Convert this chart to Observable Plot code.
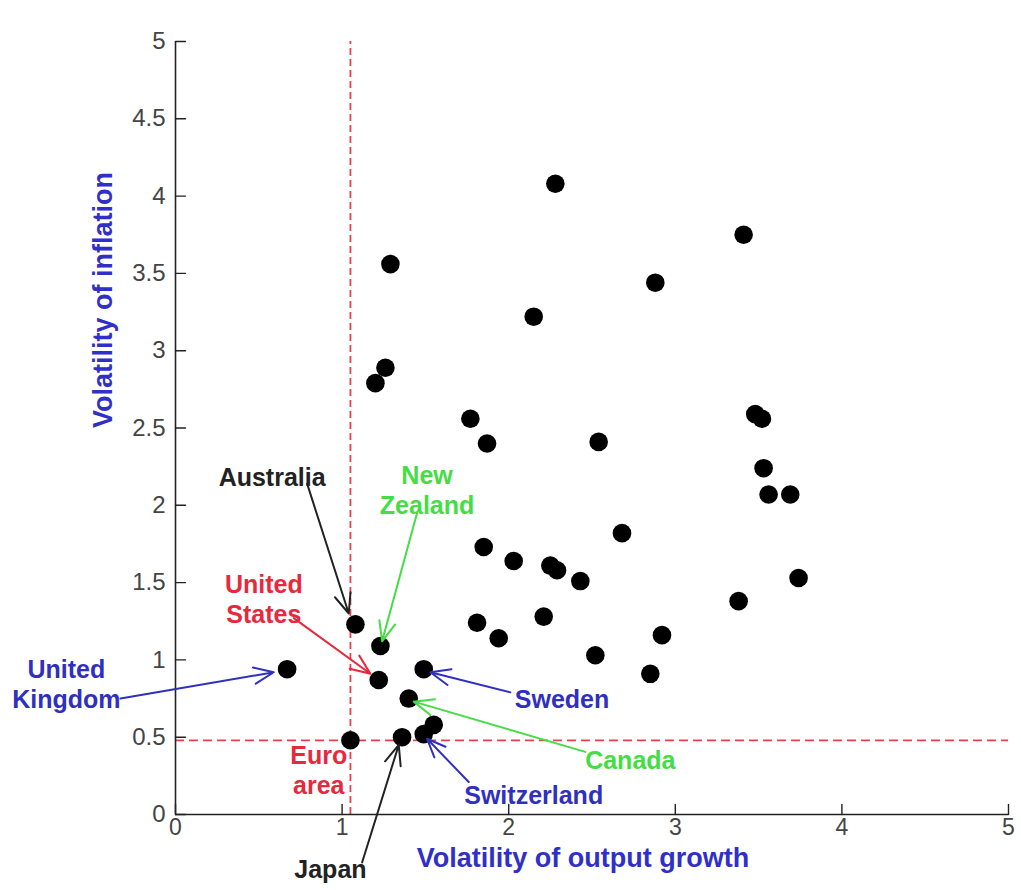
<!DOCTYPE html>
<html>
<head>
<meta charset="utf-8">
<script src="https://cdn.jsdelivr.net/npm/d3@7"></script>
<script src="https://cdn.jsdelivr.net/npm/@observablehq/plot@0.6"></script>
<style>
  html, body { margin: 0; padding: 0; background: #fff; }
</style>
</head>
<body>
<div id="chart"></div>
<script>
// ---- data ----
const outputVol = [2.28, 3.41, 1.29, 2.88, 2.15, 1.26, 1.20, 1.77, 1.87, 2.54, 3.48, 3.52, 3.53, 3.56, 3.69, 2.68, 1.85, 2.03, 2.25, 2.29, 2.43, 3.74, 3.38, 1.81, 2.21, 1.94, 2.92, 2.52, 2.85, 1.08, 1.23, 0.67, 1.22, 1.49, 1.40, 1.49, 1.55, 1.36, 1.05];
const inflationVol = [4.08, 3.75, 3.56, 3.44, 3.22, 2.89, 2.79, 2.56, 2.40, 2.41, 2.59, 2.56, 2.24, 2.07, 2.07, 1.82, 1.73, 1.64, 1.61, 1.58, 1.51, 1.53, 1.38, 1.24, 1.28, 1.14, 1.16, 1.03, 0.91, 1.23, 1.09, 0.94, 0.87, 0.94, 0.75, 0.52, 0.58, 0.50, 0.48];

const xTicks = [0, 1, 2, 3, 4, 5];
const yTicks = [0, 0.5, 1, 1.5, 2, 2.5, 3, 3.5, 4, 4.5, 5];

// euro-area reference values (dashed lines)
const refX = [1.05];
const refY = [0.48];

const xLabel = ["Volatility of output growth"];
const yLabel = ["Volatility of inflation"];

// annotations
const annotText  = ["Australia", "New\nZealand", "United\nStates", "United\nKingdom", "Sweden", "Canada", "Switzerland", "Japan", "Euro\narea"];
const annotColor = ["#222222", "#44dd44", "#e8283c", "#2f2fc0", "#2f2fc0", "#44dd44", "#2f2fc0", "#222222", "#e8283c"];
const annotX     = [0.58, 1.51, 0.53, -0.655, 2.32, 2.73, 2.15, 0.93, 0.86];
const annotY     = [2.19, 2.10, 1.40, 0.85, 0.75, 0.355, 0.127, -0.347, 0.29];

const arrowColor = ["#222222", "#44dd44", "#e8283c", "#2f2fc0", "#2f2fc0", "#44dd44", "#2f2fc0", "#222222"];
const arrowX1 = [0.79, 1.45, 0.71, -0.33, 2.01, 2.46, 1.76, 1.12];
const arrowY1 = [2.14, 1.95, 1.27, 0.75, 0.79, 0.405, 0.21, -0.31];
const arrowX2 = [1.04, 1.24, 1.17, 0.59, 1.53, 1.43, 1.51, 1.34];
const arrowY2 = [1.30, 1.12, 0.91, 0.92, 0.92, 0.73, 0.49, 0.45];

// ---- tables ----
const points = outputVol.map((x, i) => ({x, y: inflationVol[i]}));
const annots = annotText.map((t, i) => ({t, c: annotColor[i], x: annotX[i], y: annotY[i]}));
const arrows = arrowX1.map((x1, i) => ({x1, y1: arrowY1[i], x2: arrowX2[i], y2: arrowY2[i], c: arrowColor[i]}));

const lineShape = {draw(context, l) { context.moveTo(0, 0); context.lineTo(0, -l); }};
const refRed = "#e8404c";
const axisBlue = "#3030c8";

const chart = Plot.plot({
  width: 1021,
  height: 890,
  marginLeft: 175,
  marginRight: 13,
  marginTop: 41,
  marginBottom: 76,
  x: {domain: [0, 5]},
  y: {domain: [0, 5]},
  style: {fontFamily: "'Liberation Sans', Arial, sans-serif", background: "#fff", overflow: "visible"},
  marks: [
    Plot.ruleX(refX, {y1: 0, y2: 5, stroke: refRed, strokeWidth: 1.8, strokeDasharray: "7,4"}),
    Plot.ruleY(refY, {x1: 0, x2: 5, stroke: refRed, strokeWidth: 1.8, strokeDasharray: "9,5"}),
    Plot.ruleX([0], {y1: 0, y2: 5, stroke: "#222", strokeWidth: 1.6}),
    Plot.ruleY([0], {x1: 0, x2: 5, stroke: "#222", strokeWidth: 1.6}),
    Plot.vector(yTicks, {x: 0, y: d => d, length: 10, rotate: 90, anchor: "start", shape: lineShape, stroke: "#222", strokeWidth: 1.4}),
    Plot.vector(xTicks, {x: d => d, y: 0, length: 10, rotate: 0, anchor: "start", shape: lineShape, stroke: "#222", strokeWidth: 1.4}),
    Plot.axisY({ticks: yTicks, tickSize: 0, tickPadding: 10, fontSize: 24, tickFormat: d => String(d), label: null, color: "#444"}),
    Plot.axisX({ticks: xTicks, tickSize: 0, tickPadding: 4, fontSize: 23, tickFormat: d => String(d), label: null, color: "#444"}),
    Plot.text(xLabel, {frameAnchor: "bottom", dx: -9, dy: 52, text: d => d, fontSize: 27, fontWeight: "bold", fill: axisBlue}),
    Plot.text(yLabel, {frameAnchor: "left", dx: -72, rotate: -90, text: d => d, fontSize: 27, fontWeight: "bold", fill: axisBlue}),
    Plot.dot(points, {x: "x", y: "y", r: 9.3, fill: "#000", stroke: null}),
    Plot.arrow(arrows, {x1: "x1", y1: "y1", x2: "x2", y2: "y2", stroke: "c", strokeWidth: 2, headLength: 16, headAngle: 45}),
    Plot.text(annots, {x: "x", y: "y", text: "t", fill: "c", fontSize: 25, fontWeight: "bold", lineHeight: 1.2, clip: false})
  ]
});
document.getElementById("chart").appendChild(chart);
</script>
</body>
</html>
